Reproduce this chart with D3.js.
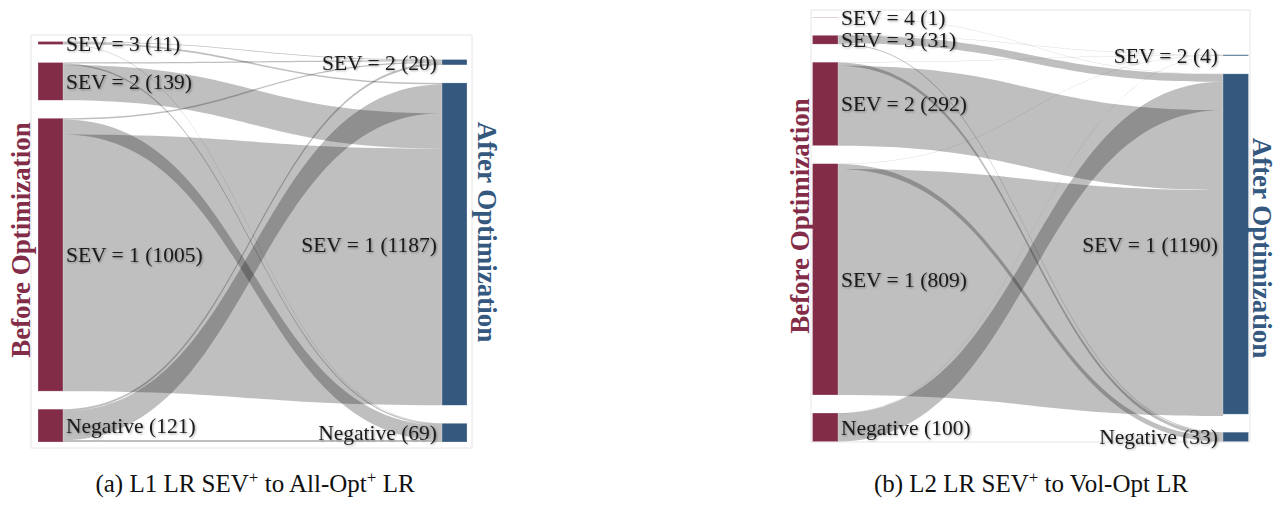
<!DOCTYPE html>
<html><head><meta charset="utf-8">
<script src="https://cdn.jsdelivr.net/npm/d3@7"></script>
<style>
body{margin:0;background:#fff}
svg{display:block}
svg text{font-family:"Liberation Serif","Times New Roman",Times,serif}
</style>
</head><body>
<svg id="chart" width="1285" height="506" font-family="Liberation Serif, Times New Roman, serif"></svg>
<script>
// ---------------- data ----------------
// Panel (a)
const leftNodesA   = ["SEV = 3", "SEV = 2", "SEV = 1", "Negative"];
const leftCountsA  = [11, 139, 1005, 121];
const rightNodesA  = ["SEV = 2", "SEV = 1", "Negative"];
const rightCountsA = [20, 1187, 69];
// rows: before-node, cols: after-node (SEV=2, SEV=1, Negative)
const flowsA = [
  [3, 6, 2],
  [4, 130, 5],
  [5, 945, 55],
  [8, 106, 7]
];
const outOrderA = [[0,1,2],[0,2,1],[0,2,1],[0,1,2]];
const inOrderA  = [[0,1,2,3],[0,3,1,2],[0,1,2,3]];

// Panel (b)
const leftNodesB   = ["SEV = 4", "SEV = 3", "SEV = 2", "SEV = 1", "Negative"];
const leftCountsB  = [1, 31, 292, 809, 100];
const rightNodesB  = ["SEV = 2", "SEV = 1", "Negative"];
const rightCountsB = [4, 1190, 33];
const flowsB = [
  [0, 1, 0],
  [1, 27, 3],
  [1, 279, 12],
  [1, 790, 18],
  [1, 99, 0]
];
const outOrderB = [[0,1,2],[0,1,2],[0,2,1],[0,2,1],[0,1,2]];
const inOrderB  = [[0,1,2,3,4],[0,1,4,2,3],[0,1,2,3,4]];

const columnTitles = ["Before Optimization", "After Optimization"];
const captionA = [["(a) L1 LR SEV", false], ["+", true], [" to All-Opt", false], ["+", true], [" LR", false]];
const captionB = [["(b) L2 LR SEV", false], ["+", true], [" to Vol-Opt LR", false]];

// ---------------- style / layout ----------------
const beforeColor = "#832c48";
const afterColor  = "#35587f";
const linkColor   = "rgba(0,0,0,0.25)";

const panels = [
  { left: leftNodesA, leftCounts: leftCountsA, right: rightNodesA, rightCounts: rightCountsA,
    flows: flowsA, outOrder: outOrderA, inOrder: inOrderA, caption: captionA,
    frame: [31, 35, 472, 448], xLeft: 38, xRight: 442, nodeW: 25, y0: 41.5, y1: 442, pad: 18,
    titleLeft: [21, 240], titleRight: [487, 232], captionPos: [255, 492] },
  { left: leftNodesB, leftCounts: leftCountsB, right: rightNodesB, rightCounts: rightCountsB,
    flows: flowsB, outOrder: outOrderB, inOrder: inOrderB, caption: captionB,
    frame: [811, 10, 1250, 442], xLeft: 812.5, xRight: 1223, nodeW: 25.5, y0: 17, y1: 441.6, pad: 18,
    titleLeft: [800, 216], titleRight: [1262, 248], captionPos: [1031, 492] }
];

const svg = d3.select("#chart");
svg.append("rect").attr("width", 1285).attr("height", 506).attr("fill", "#fff");
const defs = svg.append("defs");
defs.append("filter").attr("id", "sh").attr("x", "-10%").attr("y", "-40%").attr("width", "130%").attr("height", "180%")
  .append("feDropShadow").attr("dx", 1).attr("dy", 1).attr("stdDeviation", 0.9)
  .attr("flood-color", "#000").attr("flood-opacity", 0.35);

panels.forEach(p => {
  const g = svg.append("g");
  const total = d3.sum(p.leftCounts);
  const nL = p.left.length;
  // value -> pixel height (sankey ky from the densest column)
  const h = d3.scaleLinear().domain([0, total]).range([0, (p.y1 - p.y0) - (nL - 1) * p.pad]);
  const xCol = d3.scaleLinear().domain([0, 1]).range([p.xLeft, p.xRight]);

  // left column: stacked from top
  const leftY = [];
  let acc = p.y0;
  p.leftCounts.forEach((c, i) => { leftY.push(acc); acc += h(c) + p.pad; });
  // right column: bottom aligned
  const rightY = [];
  let accR = p.y1;
  for (let j = p.rightCounts.length - 1; j >= 0; j--) {
    accR -= h(p.rightCounts[j]);
    rightY[j] = accR;
    accR -= p.pad;
  }

  // frame
  g.append("rect")
    .attr("x", p.frame[0]).attr("y", p.frame[1])
    .attr("width", p.frame[2] - p.frame[0]).attr("height", p.frame[3] - p.frame[1])
    .attr("fill", "none").attr("stroke", "#e6e6e6").attr("stroke-width", 1);

  // link offsets
  const srcOff = p.flows.map((row, i) => {
    const off = [];
    let a = leftY[i];
    p.outOrder[i].forEach(j => { off[j] = a; a += h(row[j]); });
    return off;
  });
  const tgtOff = p.rightCounts.map((c, j) => {
    const off = [];
    let a = rightY[j];
    p.inOrder[j].forEach(i => { off[i] = a; a += h(p.flows[i][j]); });
    return off;
  });

  const links = [];
  p.flows.forEach((row, i) => row.forEach((v, j) => {
    if (v > 0) links.push({ s: i, t: j, v: v, sy: srcOff[i][j], ty: tgtOff[j][i] });
  }));

  const x0 = xCol(0) + p.nodeW, x1 = xCol(1), xm = (x0 + x1) / 2;
  g.append("g").selectAll("path").data(links).join("path")
    .attr("d", d => {
      const w = h(d.v);
      const pa = d3.path();
      pa.moveTo(x0, d.sy);
      pa.bezierCurveTo(xm, d.sy, xm, d.ty, x1, d.ty);
      pa.lineTo(x1, d.ty + w);
      pa.bezierCurveTo(xm, d.ty + w, xm, d.sy + w, x0, d.sy + w);
      pa.closePath();
      return pa.toString();
    })
    .attr("fill", linkColor);

  // nodes
  g.append("g").selectAll("rect").data(p.leftCounts).join("rect")
    .attr("x", xCol(0)).attr("y", (d, i) => leftY[i])
    .attr("width", p.nodeW).attr("height", d => h(d))
    .attr("fill", beforeColor).attr("stroke", "rgba(255,255,255,0.5)").attr("stroke-width", 0.5);
  g.append("g").selectAll("rect").data(p.rightCounts).join("rect")
    .attr("x", xCol(1)).attr("y", (d, j) => rightY[j])
    .attr("width", p.nodeW).attr("height", d => h(d))
    .attr("fill", afterColor).attr("stroke", "rgba(255,255,255,0.5)").attr("stroke-width", 0.5);

  // labels
  const lab = g.append("g").attr("font-size", 21.5).attr("fill", "#1a1a1a").attr("filter", "url(#sh)");
  lab.selectAll("text.l").data(p.leftCounts).join("text").attr("class", "l")
    .attr("x", xCol(0) + p.nodeW + 3)
    .attr("y", (d, i) => leftY[i] + h(d) / 2)
    .attr("dy", "0.35em")
    .text((d, i) => `${p.left[i]} (${d})`);
  lab.selectAll("text.r").data(p.rightCounts).join("text").attr("class", "r")
    .attr("x", xCol(1) - 5)
    .attr("y", (d, j) => rightY[j] + h(d) / 2)
    .attr("dy", "0.35em")
    .attr("text-anchor", "end")
    .text((d, j) => `${p.right[j]} (${d})`);

  // column titles
  g.append("text")
    .attr("transform", `translate(${p.titleLeft[0]},${p.titleLeft[1]}) rotate(-90)`)
    .attr("text-anchor", "middle").attr("dy", "0.35em")
    .attr("font-size", 27).attr("font-weight", "bold").attr("fill", beforeColor)
    .text(columnTitles[0]);
  g.append("text")
    .attr("transform", `translate(${p.titleRight[0]},${p.titleRight[1]}) rotate(90)`)
    .attr("text-anchor", "middle").attr("dy", "0.35em")
    .attr("font-size", 27).attr("font-weight", "bold").attr("fill", afterColor)
    .text(columnTitles[1]);

  // caption
  const cap = svg.append("text")
    .attr("x", p.captionPos[0]).attr("y", p.captionPos[1])
    .attr("text-anchor", "middle").attr("font-size", 25).attr("fill", "#111");
  p.caption.forEach(([s, sup]) => {
    const t = cap.append("tspan").text(s);
    if (sup) t.attr("baseline-shift", "super").attr("font-size", 17);
  });
});
</script>
</body></html>
